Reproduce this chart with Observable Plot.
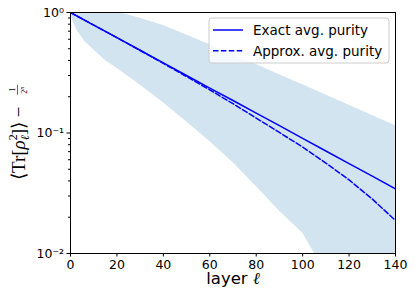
<!DOCTYPE html>
<html><head><meta charset="utf-8">
<script src="https://cdn.jsdelivr.net/npm/d3@7"></script>
<script src="https://cdn.jsdelivr.net/npm/@observablehq/plot@0.6"></script>
<style>body{margin:0;background:#fff}</style>
</head><body><div id="chart"></div>
<script>
// Layers for the two purity curves
const layers = [0, 10, 20, 30, 40, 50, 60, 70, 80, 90, 100, 110, 120, 130, 140];
const exactPurity = [1.0, 0.786, 0.618, 0.486, 0.382, 0.300, 0.236, 0.186, 0.146, 0.115, 0.0902, 0.0709, 0.0557, 0.0438, 0.0344];
const approxPurity = [1.0, 0.786, 0.618, 0.484, 0.378, 0.294, 0.228, 0.175, 0.133, 0.101, 0.0764, 0.0563, 0.0408, 0.0283, 0.0188];
// Shaded spread band
const bandLayers = [0, 1, 3, 6, 10, 15, 20, 30, 40, 50, 60, 70, 80, 90, 100, 105, 110, 120, 130, 140];
const bandLow = [1.0, 0.85, 0.70, 0.58, 0.49, 0.40, 0.345, 0.25, 0.178, 0.124, 0.085, 0.057, 0.036, 0.0225, 0.0148, 0.0101, 0.0075, 0.0045, 0.0027, 0.0016];
const bandHigh = [1.0, 1.03, 1.07, 1.09, 1.09, 1.06, 1.01, 0.895, 0.78, 0.652, 0.541, 0.448, 0.370, 0.305, 0.251, 0.228, 0.207, 0.170, 0.140, 0.115];
// Ticks
const xTicks = [0, 20, 40, 60, 80, 100, 120, 140];
const yTicks = [0.01, 0.1, 1];
const yTickLabels = ["10\u207B\u00B2", "10\u207B\u00B9", "10\u2070"];
const yMinorTicks = [0.02,0.03,0.04,0.05,0.06,0.07,0.08,0.09,0.2,0.3,0.4,0.5,0.6,0.7,0.8,0.9];
const seriesNames = ["Exact avg. purity", "Approx. avg. purity"];

const curveData = layers.map((l, i) => ({l, exact: exactPurity[i], approx: approxPurity[i]}));
const bandData = bandLayers.map((l, i) => ({l, lo: bandLow[i], hi: bandHigh[i]}));

const chart = Plot.plot({
  width: 415, height: 303,
  marginLeft: 70, marginRight: 20, marginTop: 12, marginBottom: 50,
  style: {fontFamily: "DejaVu Sans", fontSize: "12.5px", background: "white", color: "black"},
  x: {domain: [0, 140]},
  y: {type: "log", domain: [0.01, 1]},
  marks: [
    Plot.areaY(bandData, {x: "l", y1: "lo", y2: "hi", fill: "#1f77b4", fillOpacity: 0.2, clip: true}),
    Plot.line(curveData, {x: "l", y: "exact", stroke: "blue", strokeWidth: 1.5, clip: true}),
    Plot.line(curveData, {x: "l", y: "approx", stroke: "blue", strokeWidth: 1.5, strokeDasharray: "5.5,2.4", clip: true}),
    Plot.axisX({ticks: xTicks, tickSize: 3.5, tickPadding: 3, label: null, tickFormat: d => String(d)}),
    Plot.axisY({ticks: yMinorTicks, tickSize: 2, tickFormat: () => "", label: null}),
    Plot.axisY({ticks: yTicks, tickSize: 3.5, tickPadding: 3, label: null, tickFormat: d => yTickLabels[yTicks.indexOf(d)]}),
    Plot.frame({stroke: "black", strokeWidth: 1})
  ]
});
document.getElementById("chart").append(chart);
const svg = d3.select(chart);

// x label
const xl = svg.append("text").attr("x", 233).attr("y", 284).attr("text-anchor", "middle")
  .attr("font-family", "DejaVu Sans").attr("font-size", 16.5).attr("fill", "black");
xl.append("tspan").text("layer ");
xl.append("tspan").attr("font-family", "DejaVu Serif").attr("font-style", "italic").text("\u2113");

// y label (math-like)
const g = svg.append("g").attr("transform", "translate(25,134) rotate(-90)")
  .attr("font-family", "Liberation Serif").attr("fill", "black").attr("text-anchor", "start");
const t = g.append("text").attr("x", -46).attr("y", 0).attr("font-size", 19);
t.append("tspan").text("\u27E8Tr[");
t.append("tspan").attr("font-style", "italic").text("\u03C1");
t.append("tspan").attr("font-size", 12).attr("dy", -8).text("2");
t.append("tspan").attr("font-size", 12).attr("font-style", "italic").attr("dx", -6).attr("dy", 12).text("\u2113");
t.append("tspan").attr("dy", -4).text("]\u27E9 \u2212 ");
const L = t.node().getComputedTextLength();
const fx = -46 + L + 1;
g.append("text").attr("x", fx + 5).attr("y", -10).attr("font-size", 8).attr("text-anchor", "middle").text("1");
g.append("line").attr("x1", fx).attr("x2", fx + 10).attr("y1", -7.5).attr("y2", -7.5).attr("stroke", "black").attr("stroke-width", 0.6);
const den = g.append("text").attr("x", fx + 1).attr("y", 1.5).attr("font-size", 8);
den.append("tspan").text("2");
den.append("tspan").attr("font-size", 6).attr("font-style", "italic").attr("dy", -3).text("n");

// legend
const lg = svg.append("g").attr("font-family", "DejaVu Sans").attr("font-size", 13.5).attr("text-anchor", "start");
lg.append("rect").attr("x", 209).attr("y", 18).attr("width", 180).attr("height", 45).attr("rx", 3)
  .attr("fill", "white").attr("fill-opacity", 0.8).attr("stroke", "#cccccc").attr("stroke-width", 1);
const rows = [30, 50.7];
seriesNames.forEach((name, i) => {
  lg.append("line").attr("x1", 213).attr("x2", 243).attr("y1", rows[i]).attr("y2", rows[i])
    .attr("stroke", "blue").attr("stroke-width", 1.5).attr("stroke-dasharray", i ? "5.5,2.4" : null);
  lg.append("text").attr("x", 253).attr("y", rows[i] + 5).attr("fill", "black").text(name);
});
</script></body></html>
